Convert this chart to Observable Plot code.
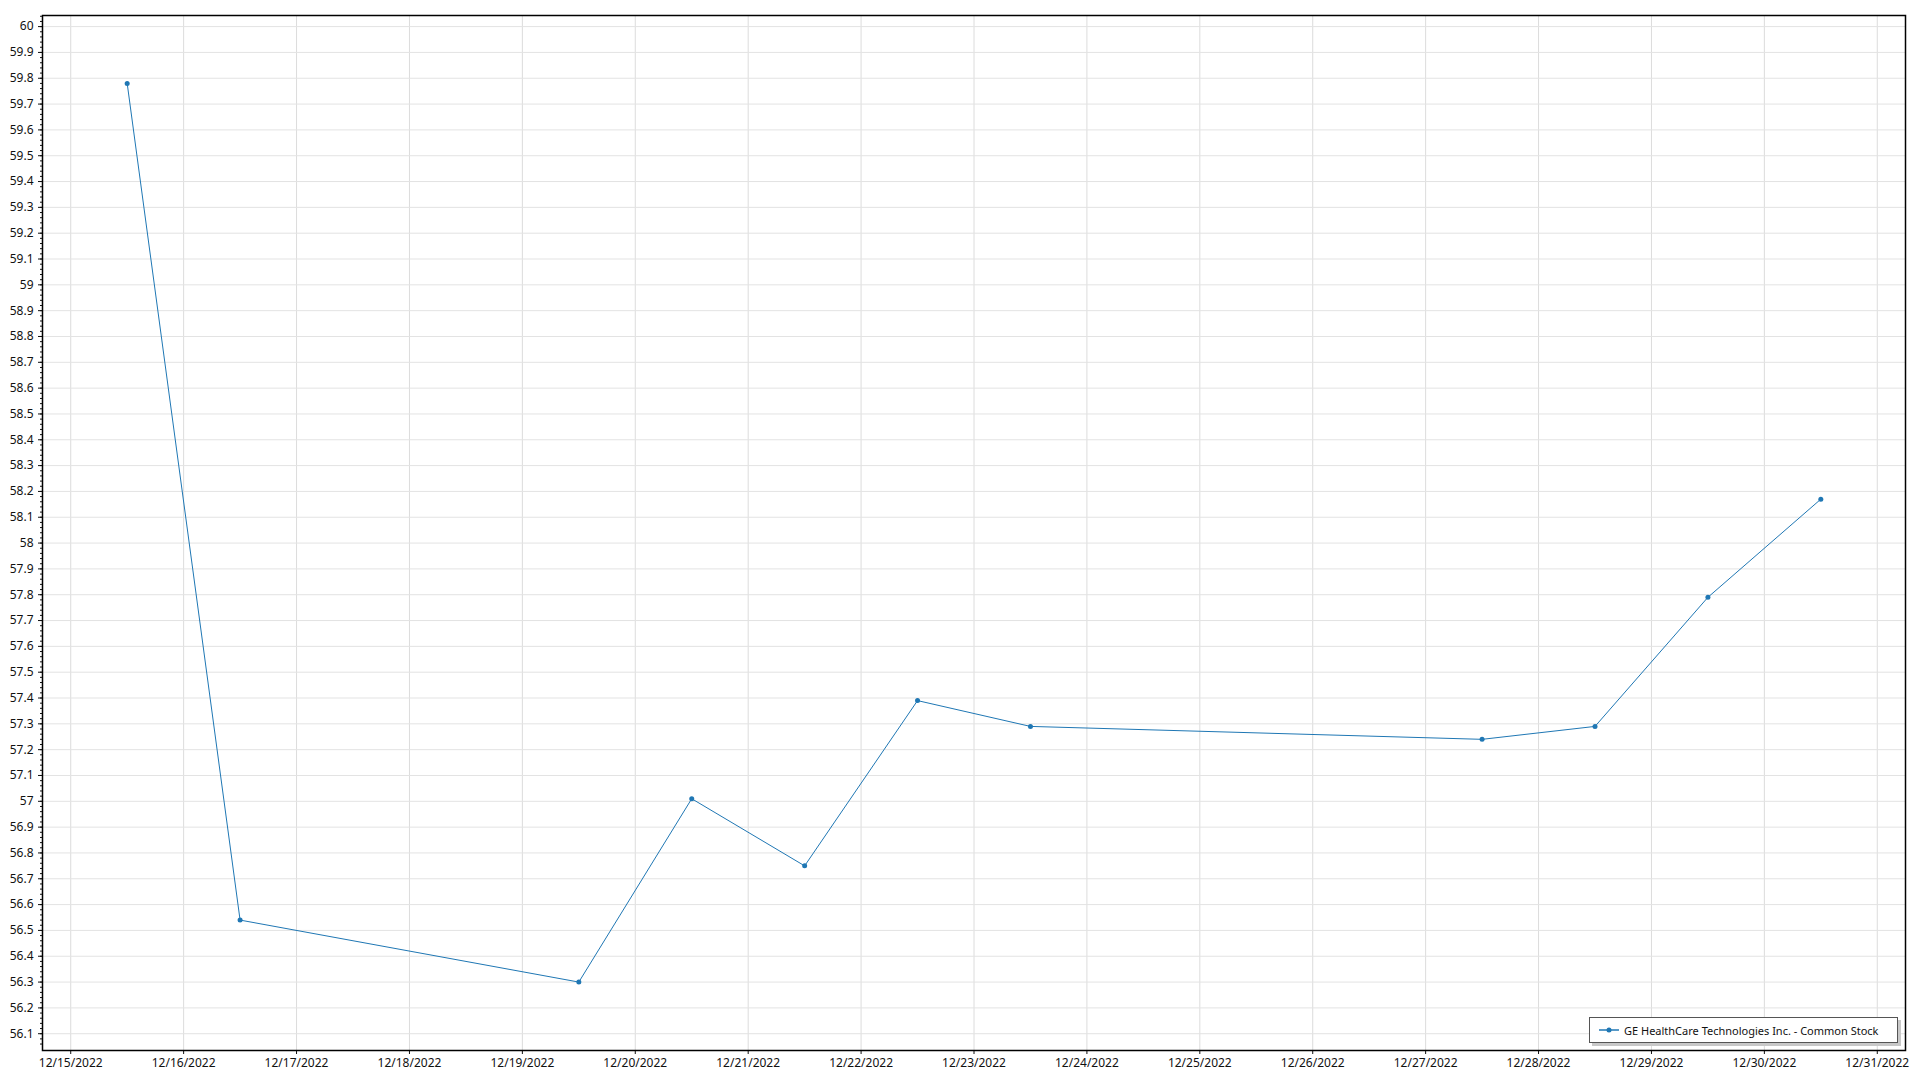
<!DOCTYPE html>
<html>
<head>
<meta charset="utf-8">
<script src="https://cdn.jsdelivr.net/npm/d3@7"></script>
<script src="https://cdn.jsdelivr.net/npm/@observablehq/plot@0.6"></script>
<style>
  html, body { margin: 0; padding: 0; background: #fff; }
  #wrap { position: relative; width: 1920px; height: 1080px; font-family: "Segoe UI", "Noto Sans", sans-serif; }
  #legend {
    position: absolute; left: 1589px; top: 1017px; width: 307px; height: 24px;
    border: 1.5px solid #555; background: #fff; box-shadow: 3px 3px 0 #c8c8c8;
    display: flex; align-items: center; font-size: 11px; color: #111; white-space: nowrap; overflow: hidden;
  }
  #legend svg { margin-left: 9px; margin-right: 5px; flex: none; }
</style>
</head>
<body>
<div id="wrap"></div>
<script>
const seriesName = "GE HealthCare Technologies Inc. - Common Stock";
const dates = ["2022-12-15","2022-12-16","2022-12-19","2022-12-20","2022-12-21","2022-12-22","2022-12-23","2022-12-27","2022-12-28","2022-12-29","2022-12-30"];
const prices = [59.78, 56.54, 56.30, 57.01, 56.75, 57.39, 57.29, 57.24, 57.29, 57.79, 58.17];
const xTickDates = ["2022-12-15","2022-12-16","2022-12-17","2022-12-18","2022-12-19","2022-12-20","2022-12-21","2022-12-22","2022-12-23","2022-12-24","2022-12-25","2022-12-26","2022-12-27","2022-12-28","2022-12-29","2022-12-30","2022-12-31"];
const yTicks = [56.1,56.2,56.3,56.4,56.5,56.6,56.7,56.8,56.9,57,57.1,57.2,57.3,57.4,57.5,57.6,57.7,57.8,57.9,58,58.1,58.2,58.3,58.4,58.5,58.6,58.7,58.8,58.9,59,59.1,59.2,59.3,59.4,59.5,59.6,59.7,59.8,59.9,60];

const data = dates.map((d, i) => ({date: new Date(d + "T12:00:00Z"), price: prices[i]}));
const xTicks = xTickDates.map(d => new Date(d + "T00:00:00Z"));
const minorTicks = d3.range(2803, 3003).map(d => d / 50);
const color = "#1f77b4";

const chart = Plot.plot({
  width: 1920,
  height: 1080,
  marginLeft: 42,
  marginRight: 15,
  marginTop: 15,
  marginBottom: 30,
  style: {fontFamily: "'Segoe UI', 'Noto Sans', sans-serif", fontSize: "12px", color: "#111", background: "#fff"},
  x: {type: "utc", domain: [new Date("2022-12-14T18:00:00Z"), new Date("2022-12-31T06:00:00Z")], label: null},
  y: {domain: [56.035, 60.043], label: null},
  marks: [
    Plot.gridX(xTicks, {stroke: "#dcdcdc", strokeOpacity: 1}),
    Plot.gridY(yTicks, {stroke: "#e3e3e3", strokeOpacity: 1}),
    Plot.axisY(minorTicks, {tickSize: 2, text: null, label: null}),
    Plot.axisY(yTicks, {tickSize: 4, tickPadding: 5, tickFormat: d => String(d), label: null}),
    Plot.axisX(xTicks, {tickSize: 4, tickPadding: 4, tickFormat: d3.utcFormat("%m/%d/%Y"), label: null}),
    Plot.line(data, {x: "date", y: "price", stroke: color, strokeWidth: 1}),
    Plot.dot(data, {x: "date", y: "price", r: 2.5, fill: color}),
    Plot.frame({stroke: "#000", strokeWidth: 1.5})
  ]
});

const wrap = document.getElementById("wrap");
wrap.appendChild(chart);

const legend = document.createElement("div");
legend.id = "legend";
legend.innerHTML = `<svg width="20" height="10"><line x1="0" y1="5" x2="20" y2="5" stroke="${color}" stroke-width="1.5"/><circle cx="10" cy="5" r="2.5" fill="${color}"/></svg><span></span>`;
legend.querySelector("span").textContent = seriesName;
wrap.appendChild(legend);
</script>
</body>
</html>
